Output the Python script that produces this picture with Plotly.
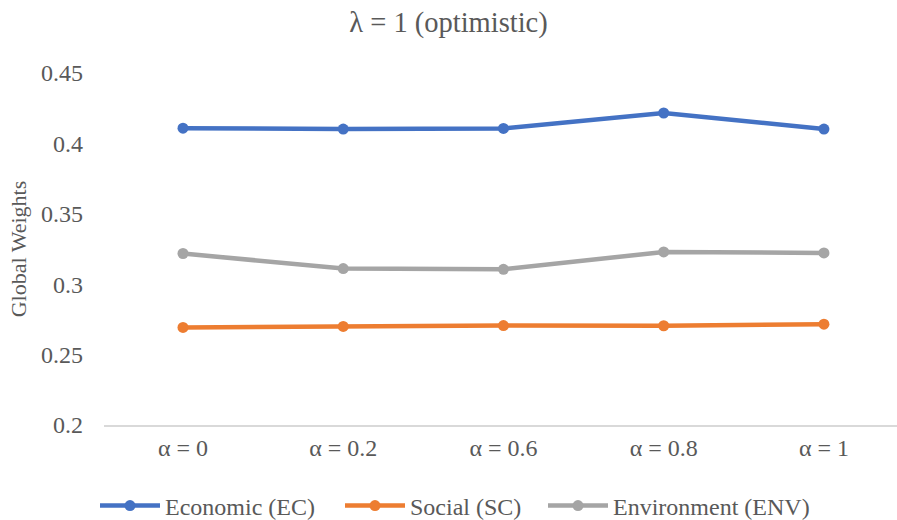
import plotly.graph_objects as go

categories = ["α = 0", "α = 0.2", "α = 0.6", "α = 0.8", "α = 1"]
economic = [0.4108, 0.4102, 0.4106, 0.4216, 0.4102]
social = [0.2693, 0.2700, 0.2706, 0.2705, 0.2716]
environment = [0.3218, 0.3111, 0.3106, 0.3229, 0.3222]

series = [
    ("Economic (EC)", economic, "#4472C4", 170),
    ("Social (SC)", social, "#ED7D31", 128),
    ("Environment (ENV)", environment, "#A5A5A5", 205),
]

font_family = "Liberation Serif"
grey = "#595959"
fig = go.Figure()
for name, vals, color, lw in series:
    fig.add_trace(go.Scatter(
        x=list(range(len(categories))), y=vals, name=name, mode="lines+markers",
        line=dict(color=color, width=4.5),
        marker=dict(color=color, size=11),
        legendwidth=lw,
    ))

fig.update_layout(
    width=897, height=520,
    paper_bgcolor="white", plot_bgcolor="white",
    margin=dict(l=104, r=0, t=73, b=95, autoexpand=False),
    font=dict(family=font_family, color=grey, size=24),
    title=dict(text="λ = 1 (optimistic)", x=0.5, xanchor="center", y=0.958, yanchor="middle",
               font=dict(size=28.5, color=grey, family=font_family)),
    xaxis=dict(
        tickmode="array", tickvals=list(range(len(categories))), ticktext=categories,
        range=[-0.493, 4.456], showgrid=False, zeroline=False,
        showline=True, linecolor="#D9D9D9", linewidth=1.5,
        ticks="", tickfont=dict(size=24, color=grey, family=font_family),
    ),
    yaxis=dict(
        range=[0.2, 0.45], tickvals=[0.2, 0.25, 0.3, 0.35, 0.4, 0.45],
        ticktext=["0.2", "0.25", "0.3", "0.35", "0.4", "0.45"],
        showgrid=False, zeroline=False, showline=False, ticks="",
        ticklabelstandoff=20,
        tickfont=dict(size=24, color=grey, family=font_family),
        title=dict(text="Global Weights", font=dict(size=22, color=grey, family=font_family), standoff=8),
    ),
    legend=dict(orientation="h", x=(95 - 104) / 793, xanchor="left", y=-0.23, yanchor="middle",
                font=dict(size=24, color=grey, family=font_family), itemwidth=60,
                bgcolor="rgba(0,0,0,0)"),
    showlegend=True,
)

fig.write_html("out.html", config={"displayModeBar": False},
               post_script="document.body.style.margin='0';")
